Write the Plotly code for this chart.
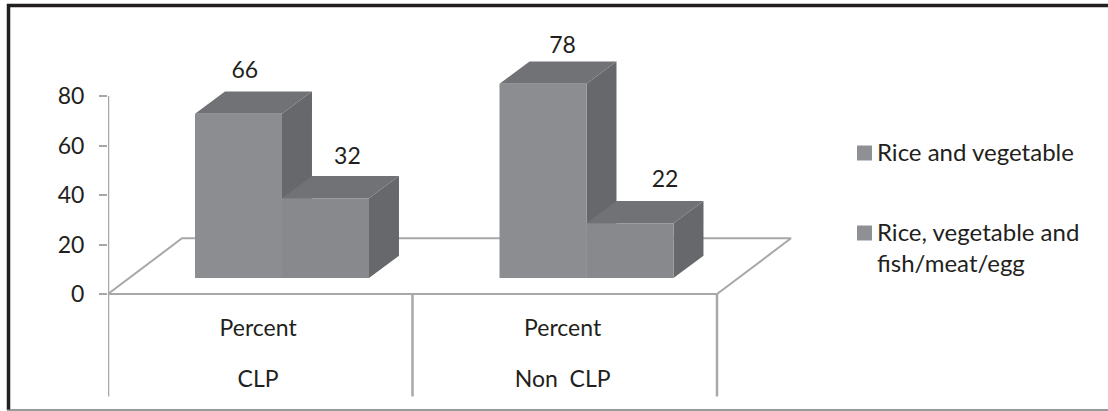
import plotly.graph_objects as go

# Chart data
groups = ["CLP", "Non  CLP"]
measure = "Percent"
series_names = ["Rice and vegetable", "Rice, vegetable and<br>fish/meat/egg"]
rice_veg = [66, 78]
rice_veg_protein = [32, 22]
y_ticks = [0, 20, 40, 60, 80]

# Oblique projection of the pseudo-3D bars, in axis units
BAR_W = 0.2857
BAR_OFFSET = 0.2857
BASE = 6.46
HEIGHT_SCALE = 1.006
DX, DY = 0.0985, 9.0
FLOOR_DX, FLOOR_DY = 0.243, 22.5
UNITS_PER_GROUP_PX = 1 / 304.5

# Value labels sit over the top face, each nudged by its own amount
LABEL_LIFT = [[7.8, 7.0], [5.8, 7.8]]
LABEL_SHIFT = [[0.021, 0.072], [0.064, 0.115]]

FRONT = ["#8c8d90", "#88898c"]
TOP = "#717275"
SIDE = "#67686b"
AXIS = "#a7a8aa"
INK = "#231f20"
FONT = "Lato"
LABEL_SIZE = 23
LEGEND_SIZE = 24

fig = go.Figure()


def poly(xs, ys, color, name=None):
    fig.add_trace(go.Scatter(
        x=xs + xs[:1], y=ys + ys[:1], mode="lines", fill="toself", name=name,
        fillcolor=color, line=dict(width=0), hoverinfo="skip", showlegend=False,
    ))


def rule(xs, ys, width=2.5):
    fig.add_trace(go.Scatter(
        x=xs, y=ys, mode="lines", line=dict(color=AXIS, width=width),
        hoverinfo="skip", showlegend=False,
    ))


def bar(x0, value, front, name):
    x1 = x0 + BAR_W
    top = BASE + value * HEIGHT_SCALE
    poly([x1, x1 + DX, x1 + DX, x1], [BASE, BASE + DY, top + DY, top], SIDE)
    poly([x0, x1, x1 + DX, x0 + DX], [top, top, top + DY, top + DY], TOP)
    poly([x0, x1, x1, x0], [BASE, BASE, top, top], front, name)


# Floor outline, value axis and category dividers
rule([0, FLOOR_DX, 2 + FLOOR_DX, 2, 0], [0, FLOOR_DY, FLOOR_DY, 0, 0], width=2)
rule([0, 0], [0, 80])
for edge in [0, 1, 2]:
    rule([edge, edge], [-41.4, 0])

# Bars, back to front within each category
label_x, label_y, label_text = [], [], []
for i in range(len(groups)):
    left = i + BAR_OFFSET
    for j, values in enumerate([rice_veg, rice_veg_protein]):
        x0 = left + j * BAR_W
        bar(x0, values[i], FRONT[j], series_names[j])
        label_x.append(x0 + BAR_W / 2 + LABEL_SHIFT[i][j])
        label_y.append(BASE + values[i] * HEIGHT_SCALE + DY + LABEL_LIFT[i][j])
        label_text.append(str(values[i]))

# Value labels above the bars
fig.add_trace(go.Scatter(
    x=label_x, y=label_y, text=label_text, mode="text",
    textfont=dict(family=FONT, size=LABEL_SIZE, color=INK),
    hoverinfo="skip", showlegend=False,
))

# Two-level category labels under the floor
centers = [i + 0.493 for i in range(len(groups))]
fig.add_trace(go.Scatter(
    x=centers, y=[-14.6] * len(groups), text=[measure] * len(groups), mode="text",
    textfont=dict(family=FONT, size=LABEL_SIZE, color=INK), hoverinfo="skip", showlegend=False,
))
fig.add_trace(go.Scatter(
    x=centers, y=[-35.2] * len(groups), text=groups, mode="text",
    textfont=dict(family=FONT, size=LABEL_SIZE, color=INK), hoverinfo="skip", showlegend=False,
))

PLOT_LEFT = 108
WIDTH, HEIGHT = 1108, 411


def px(x):
    return (x - PLOT_LEFT) / (WIDTH - PLOT_LEFT)


def py(y):
    return 1 - y / HEIGHT


def frame(x0, y0, x1, y1, color, width):
    return dict(type="line", xref="paper", yref="paper", x0=px(x0), y0=py(y0),
                x1=px(x1), y1=py(y1), line=dict(color=color, width=width))


def swatch(cy):
    return dict(type="rect", xref="paper", yref="paper", x0=px(857), x1=px(872),
                y0=py(cy + 7.5), y1=py(cy - 7.5), fillcolor="#8f9093", line=dict(width=0))


# Key placed beside the plot: a swatch and a label per series
key_rows = [153, 233]
annotations = [
    dict(xref="paper", yref="paper", x=px(875), y=py(row - 18.5), text=name,
         xanchor="left", yanchor="top", align="left", showarrow=False,
         font=dict(family=FONT, size=LEGEND_SIZE, color=INK))
    for row, name in zip(key_rows, series_names)
]

fig.update_layout(
    width=WIDTH, height=HEIGHT,
    margin=dict(l=PLOT_LEFT, r=0, t=0, b=0, pad=0),
    paper_bgcolor="white", plot_bgcolor="white",
    font=dict(family=FONT, color=INK),
    showlegend=False,
    annotations=annotations,
    xaxis=dict(range=[0, 1000 * UNITS_PER_GROUP_PX], visible=False, fixedrange=True),
    yaxis=dict(
        range=[-47.27, 118.79], tickmode="array", tickvals=y_ticks,
        ticks="outside", ticklen=8, tickwidth=2, tickcolor=AXIS,
        ticklabelstandoff=10, showline=False, showgrid=False, zeroline=False,
        tickfont=dict(family=FONT, size=LABEL_SIZE, color=INK), fixedrange=True,
    ),
    shapes=[
        frame(7, 5.5, WIDTH, 5.5, "#231f20", 3.5),
        frame(8.5, 4, 8.5, 410, "#231f20", 3.5),
        frame(7, 410, WIDTH, 410, "#77787b", 1.5),
        swatch(key_rows[0]),
        swatch(key_rows[1]),
    ],
)

fig.write_html("out.html", config=dict(displayModeBar=False))
